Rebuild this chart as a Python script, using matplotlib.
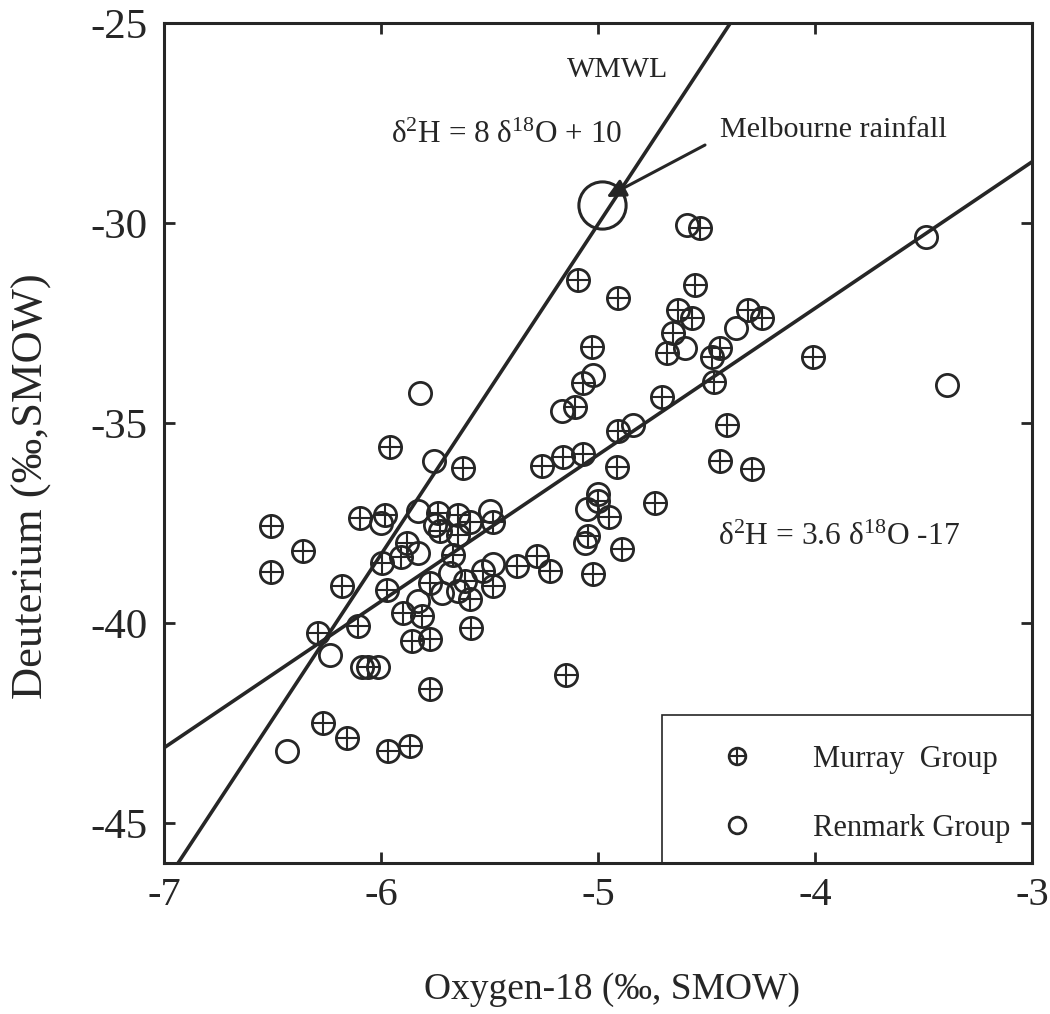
import matplotlib
matplotlib.use("Agg")
import matplotlib.pyplot as plt
from matplotlib.patches import Rectangle

plt.rcParams['font.family'] = ['Liberation Serif', 'DejaVu Serif']
plt.rcParams['mathtext.fontset'] = 'custom'
plt.rcParams['mathtext.rm'] = 'Liberation Serif'
plt.rcParams['mathtext.it'] = 'Liberation Serif:italic'

# ---------------- data ----------------
murray_x = [-5.959, -6.507, -6.359, -6.507, -6.097, -5.982, -5.737, -5.645, -5.59, -5.484,
            -5.728, -5.645, -5.88, -5.91, -5.995, -5.668, -6.18, -5.972, -5.774, -5.613,
            -5.59, -5.53, -5.484, -5.373, -5.281, -5.221, -5.9, -5.81, -5.857, -5.774,
            -6.106, -6.29, -6.06, -5.774, -5.585, -5.147, -6.267, -6.157, -5.968, -5.866,
            -5.622, -5.258, -5.161, -5.069, -4.912, -5.0, -4.949, -4.737, -5.046, -4.889,
            -5.023, -5.106, -4.908, -4.705, -5.092, -4.908, -4.553, -4.631, -4.567, -4.654,
            -4.682, -4.309, -4.244, -4.438, -4.475, -4.465, -5.028, -5.069, -4.406, -4.438,
            -4.29, -4.009, -4.53]
murray_y = [-35.6, -37.57, -38.2, -38.72, -37.37, -37.3, -37.25, -37.3, -37.47, -37.47,
            -37.7, -37.8, -38.0, -38.35, -38.5, -38.3, -39.07, -39.17, -39.0, -38.94,
            -39.4, -38.7, -39.07, -38.57, -38.32, -38.7, -39.75, -39.82, -40.45, -40.4,
            -40.07, -40.25, -41.1, -41.65, -40.12, -41.3, -42.5, -42.88, -43.2, -43.08,
            -36.13, -36.08, -35.86, -35.77, -36.1, -36.95, -37.35, -36.99, -37.82, -38.16,
            -38.77, -34.59, -35.19, -34.35, -31.43, -31.88, -31.55, -32.18, -32.38, -32.76,
            -33.26, -32.18, -32.38, -33.13, -33.35, -33.98, -33.1, -34.0, -35.06, -35.94,
            -36.14, -33.36, -30.13]

renmark_x = [-5.82, -5.756, -6.0, -5.83, -5.498, -5.75, -5.83, -5.682, -5.719, -5.645,
             -5.484, -5.83, -6.235, -6.088, -6.014, -6.433, -5.166, -4.839, -5.0, -5.05,
             -5.06, -4.599, -4.364, -5.023, -4.59, -3.488, -3.392]
renmark_y = [-34.26, -35.96, -37.5, -37.2, -37.2, -37.55, -38.25, -38.76, -39.25, -39.2,
             -38.52, -39.45, -40.8, -41.1, -41.1, -43.2, -34.69, -35.06, -36.77, -37.15,
             -38.0, -33.13, -32.63, -33.81, -30.06, -30.34, -34.06]

melbourne_x = [-4.98]
melbourne_y = [-29.55]

# line endpoints as drawn
wmwl_x = [-6.935, -4.39]
wmwl_y = [-46.0, -25.0]
fit_x = [-7.0, -3.0]
fit_y = [-43.12, -28.47]

x_ticks = [-7, -6, -5, -4, -3]
y_ticks = [-45, -40, -35, -30, -25]

ink = '#262626'

# ---------------- figure ----------------
fig = plt.figure(figsize=(10.5, 10.14), dpi=100)
ax = fig.add_axes([0.1562, 0.1489, 0.8267, 0.8284])
ax.set_xlim(-7, -3)
ax.set_ylim(-46, -25)

ax.plot(wmwl_x, wmwl_y, color=ink, lw=2.6, solid_capstyle='butt')
ax.plot(fit_x, fit_y, color=ink, lw=2.6, solid_capstyle='butt')

h_mc, = ax.plot(murray_x, murray_y, 'o', mfc='none', mec=ink, ms=16, mew=2.0)
h_mp, = ax.plot(murray_x, murray_y, '+', color=ink, ms=16, mew=1.5)
h_r, = ax.plot(renmark_x, renmark_y, 'o', mfc='none', mec=ink, ms=16, mew=2.0)
ax.plot(melbourne_x, melbourne_y, 'o', mfc='none', mec=ink, ms=34, mew=2.2)

# annotations
ax.text(-4.912, -26.17, 'WMWL', fontsize=21.5, ha='center', va='center', color=ink)
ax.text(-5.422, -27.8, 'δ$^{2}$H = 8 δ$^{18}$O + 10', fontsize=22.5, ha='center', va='center', color=ink)
ax.text(-4.44, -27.67, 'Melbourne rainfall', fontsize=21.7, ha='left', va='center', color=ink)
ax.text(-4.445, -37.86, 'δ$^{2}$H = 3.6 δ$^{18}$O -17', fontsize=22.7, ha='left', va='center', color=ink)
ax.annotate('', xy=(-4.96, -29.35), xytext=(-4.507, -28.05),
            arrowprops=dict(arrowstyle='-|>', color=ink, lw=2.2, mutation_scale=28,
                            shrinkA=0, shrinkB=0))

# legend
ax.add_patch(Rectangle((0.5737, 0.0), 1 - 0.5737, 0.1762, transform=ax.transAxes,
                       fill=False, edgecolor=ink, lw=1.2, zorder=3))
leg = ax.legend([(h_mc, h_mp), h_r], ['Murray  Group', 'Renmark Group'],
                loc='lower left', bbox_to_anchor=(0.607, -0.012), frameon=False,
                fontsize=22, markerscale=0.75, handlelength=1.0, handletextpad=2.0,
                labelspacing=1.3, borderpad=0.5)
for t in leg.get_texts():
    t.set_color(ink)

# axes styling
ax.set_xticks(x_ticks)
ax.set_yticks(y_ticks)
ax.set_xticklabels([str(v) for v in x_ticks])
ax.set_yticklabels([str(v) for v in y_ticks])
ax.tick_params(direction='in', length=8, width=2, labelsize=29, colors=ink,
               top=True, right=True, pad=10)
ax.tick_params(axis='y', labelsize=31, pad=12)
for s in ax.spines.values():
    s.set_linewidth(2.2)
    s.set_color(ink)

ax.set_xlabel('Oxygen-18 (‰, SMOW)', fontsize=27, color=ink, va='center')
ax.xaxis.set_label_coords(0.516, -0.151)
ax.set_ylabel('Deuterium (‰,SMOW)', fontsize=32, color=ink, va='center')
ax.yaxis.set_label_coords(-0.152, 0.449)

fig.savefig('out.png', dpi=100)
